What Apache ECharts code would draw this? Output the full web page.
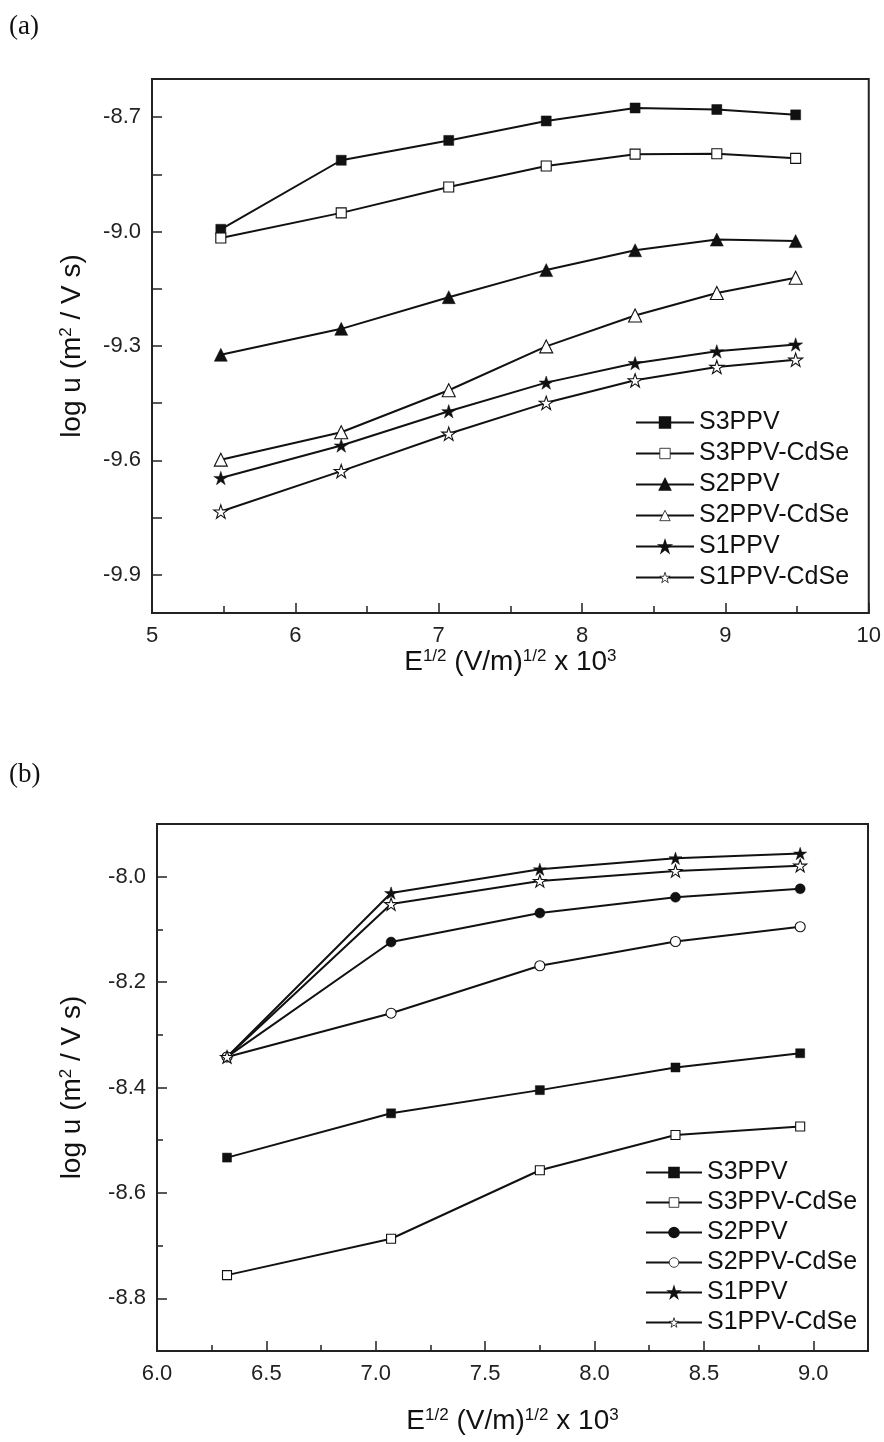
<!DOCTYPE html>
<html><head><meta charset="utf-8">
<script src="https://cdn.jsdelivr.net/npm/echarts@6/dist/echarts.min.js"></script>
<style>html,body{margin:0;padding:0;background:#fff}#c{width:884px;height:1442px}</style>
</head><body><div id="c"></div>
<script>
// ---------- data ----------
const names = ['S3PPV','S3PPV-CdSe','S2PPV','S2PPV-CdSe','S1PPV','S1PPV-CdSe'];

// panel (a)
const xA = [5.48, 6.32, 7.07, 7.75, 8.37, 8.94, 9.49];
const aS3PPV      = [-8.994, -8.813, -8.761, -8.710, -8.676, -8.680, -8.694];
const aS3PPVCdSe  = [-9.017, -8.951, -8.883, -8.828, -8.797, -8.796, -8.808];
const aS2PPV      = [-9.323, -9.255, -9.172, -9.101, -9.049, -9.021, -9.025];
const aS2PPVCdSe  = [-9.598, -9.526, -9.416, -9.301, -9.220, -9.161, -9.121];
const aS1PPV      = [-9.646, -9.561, -9.471, -9.396, -9.345, -9.314, -9.296];
const aS1PPVCdSe  = [-9.734, -9.628, -9.530, -9.449, -9.390, -9.355, -9.336];

// panel (b)
const xB = [6.32, 7.07, 7.75, 8.37, 8.94];
const bS3PPV      = [-8.533, -8.449, -8.405, -8.362, -8.335];
const bS3PPVCdSe  = [-8.756, -8.687, -8.557, -8.490, -8.474];
const bS2PPV      = [-8.342, -8.124, -8.069, -8.039, -8.023];
const bS2PPVCdSe  = [-8.342, -8.259, -8.169, -8.123, -8.095];
const bS1PPV      = [-8.342, -8.031, -7.986, -7.965, -7.956];
const bS1PPVCdSe  = [-8.342, -8.052, -8.008, -7.989, -7.979];

// ticks
const yLabelsA = [-9.9, -9.6, -9.3, -9.0, -8.7];
const yTicksA  = [-9.9, -9.75, -9.6, -9.45, -9.3, -9.15, -9.0, -8.85, -8.7];
const yLabelsB = [-8.8, -8.6, -8.4, -8.2, -8.0];
const yMinorB  = [-8.9, -8.7, -8.5, -8.3, -8.1];
const xLabelsB = [6.0, 6.5, 7.0, 7.5, 8.0, 8.5, 9.0];
const xMinorB  = [6.25, 6.75, 7.25, 7.75, 8.25, 8.75];

// ---------- style ----------
const FONT = '"Liberation Sans", Arial, sans-serif';
const AX = '#222';
const STAR = 'path://M0,-10 L2.245,-3.09 L9.51,-3.09 L3.633,1.18 L5.88,8.09 L0,3.82 L-5.88,8.09 L-3.633,1.18 L-9.51,-3.09 L-2.245,-3.09 Z';

const aData = [aS3PPV, aS3PPVCdSe, aS2PPV, aS2PPVCdSe, aS1PPV, aS1PPVCdSe];
const bData = [bS3PPV, bS3PPVCdSe, bS2PPV, bS2PPVCdSe, bS1PPV, bS1PPVCdSe];
const aSym = ['rect','rect','triangle','triangle',STAR,STAR];
const bSym = ['rect','rect','circle','circle',STAR,STAR];
const aSize = [10,10,13,13,14,14];
const bSize = [9,9,10,10,13,13];
const filled = [true,false,true,false,true,false];

function mkSeries(prefix, xs, data, sym, size, gi) {
  return data.map((ys, i) => ({
    name: prefix + names[i],
    type: 'line',
    xAxisIndex: gi === 0 ? 0 : 1,
    yAxisIndex: gi === 0 ? 0 : 1,
    data: xs.map((x, k) => [x, ys[k]]),
    symbol: sym[i],
    symbolSize: size[i],
    symbolKeepAspect: true,
    showAllSymbol: true,
    lineStyle: { color: '#111', width: 2 },
    itemStyle: filled[i] ? { color: '#111', borderColor: '#111', borderWidth: 0.5 }
                         : { color: '#fff', borderColor: '#111', borderWidth: 1.1 },
    emphasis: { disabled: true },
    z: 3
  }));
}

function legendData(prefix) {
  return names.map((n, i) => filled[i]
    ? { name: prefix + n }
    : { name: prefix + n, itemStyle: { color: '#fff', borderColor: '#111', borderWidth: 0.8 } });
}

const sup = { fontSize: 17, verticalAlign: 'top', fontFamily: FONT, color: '#111' };
const nameStyle = { fontSize: 28, fontFamily: FONT, color: '#111', rich: { sup: sup } };
const xName = 'E{sup|1/2} (V/m){sup|1/2} x 10{sup|3}';
const yName = 'log u (m{sup|2} / V s)';

const axisLine = { show: true, onZero: false, lineStyle: { color: AX, width: 2 } };
const labelStyle = { fontSize: 22, fontFamily: FONT, color: '#222' };

const option = {
  animation: false,
  backgroundColor: '#fff',
  graphic: [
    { type: 'text', left: 9, top: 13, style: { text: '(a)', font: '27px "Liberation Serif", serif', fill: '#111' } },
    { type: 'text', left: 9, top: 761, style: { text: '(b)', font: '27px "Liberation Serif", serif', fill: '#111' } }
  ],
  grid: [
    { left: 152, right: 15, top: 79, height: 534, show: true, borderColor: AX, borderWidth: 2, backgroundColor: 'transparent' },
    { left: 157, right: 16, top: 824, height: 527, show: true, borderColor: AX, borderWidth: 2, backgroundColor: 'transparent' }
  ],
  xAxis: [
    { gridIndex: 0, type: 'value', position: 'bottom', min: 5, max: 10, interval: 1,
      axisLine: axisLine,
      axisTick: { inside: true, length: 10, lineStyle: { color: AX, width: 1.5 } },
      minorTick: { show: true, splitNumber: 2, length: 7, lineStyle: { color: AX, width: 1.5 } },
      axisLabel: Object.assign({ margin: 12 }, labelStyle),
      splitLine: { show: false },
      name: xName, nameLocation: 'middle', nameGap: 30, nameTextStyle: nameStyle },
    { gridIndex: 1, type: 'value', position: 'bottom', min: 6, max: 9.25,
      axisLine: axisLine,
      axisTick: { inside: true, length: 10, customValues: xLabelsB, lineStyle: { color: AX, width: 1.5 } },
      axisLabel: Object.assign({ margin: 12, customValues: xLabelsB, formatter: v => v.toFixed(1) }, labelStyle),
      splitLine: { show: false },
      name: xName, nameLocation: 'middle', nameGap: 56, nameTextStyle: nameStyle },
    { gridIndex: 1, type: 'value', position: 'bottom', offset: 0, min: 6, max: 9.25,
      axisLine: { show: false },
      axisTick: { inside: true, length: 6, customValues: xMinorB, lineStyle: { color: AX, width: 1.5 } },
      axisLabel: { show: false }, splitLine: { show: false } }
  ],
  yAxis: [
    { gridIndex: 0, type: 'value', position: 'left', min: -10, max: -8.6,
      axisLine: axisLine,
      axisTick: { inside: true, length: 10, customValues: yTicksA, lineStyle: { color: AX, width: 1.5 } },
      axisLabel: Object.assign({ margin: 11, customValues: yLabelsA, formatter: v => v.toFixed(1) }, labelStyle),
      splitLine: { show: false },
      name: yName, nameLocation: 'middle', nameGap: 66, nameRotate: 90, nameTextStyle: nameStyle },
    { gridIndex: 1, type: 'value', position: 'left', min: -8.9, max: -7.9,
      axisLine: axisLine,
      axisTick: { inside: true, length: 10, customValues: yLabelsB, lineStyle: { color: AX, width: 1.5 } },
      axisLabel: Object.assign({ margin: 11, customValues: yLabelsB, formatter: v => v.toFixed(1) }, labelStyle),
      splitLine: { show: false },
      name: yName, nameLocation: 'middle', nameGap: 71, nameRotate: 90, nameTextStyle: nameStyle },
    { gridIndex: 1, type: 'value', position: 'left', offset: 0, min: -8.9, max: -7.9,
      axisLine: { show: false },
      axisTick: { inside: true, length: 6, customValues: yMinorB, lineStyle: { color: AX, width: 1.5 } },
      axisLabel: { show: false }, splitLine: { show: false } }
  ],
  legend: [
    { data: legendData(''), orient: 'vertical', left: 630, top: 405, itemWidth: 58, itemHeight: 13, itemGap: 6,
      textStyle: { fontSize: 25, fontFamily: FONT, color: '#111', lineHeight: 25 }, selectedMode: false },
    { data: legendData('b:'), orient: 'vertical', left: 640, top: 1155, itemWidth: 56, itemHeight: 12, itemGap: 5,
      formatter: n => n.replace(/^b:/, ''),
      textStyle: { fontSize: 25, fontFamily: FONT, color: '#111', lineHeight: 25 }, selectedMode: false }
  ],
  series: [].concat(mkSeries('', xA, aData, aSym, aSize, 0), mkSeries('b:', xB, bData, bSym, bSize, 1))
};

const chart = echarts.init(document.getElementById('c'), null, { renderer: 'canvas' });
chart.setOption(option);
</script>
</body></html>
